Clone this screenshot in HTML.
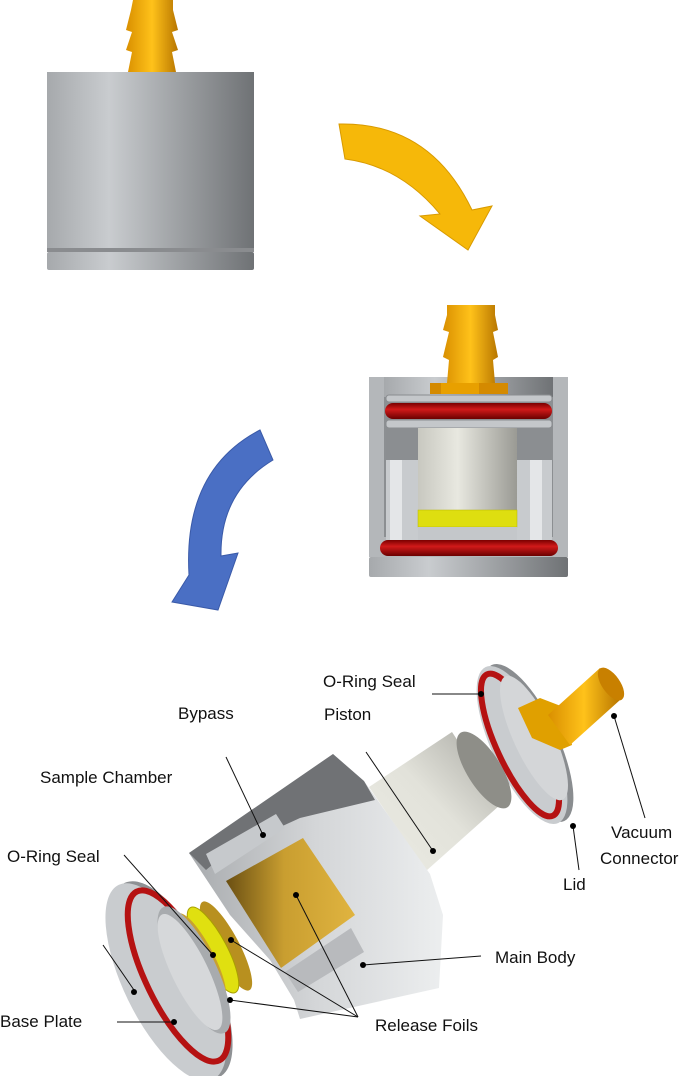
<!DOCTYPE html>
<html><head><meta charset="utf-8"><style>
html,body{margin:0;padding:0;background:#fff}
svg{display:block}
text{font-family:"Liberation Sans",sans-serif;font-size:17px;fill:#111}
</style></head><body>
<svg width="688" height="1076" viewBox="0 0 688 1076" xmlns="http://www.w3.org/2000/svg">
<defs>
<linearGradient id="gc" x1="0" x2="1" y1="0" y2="0">
<stop offset="0" stop-color="#a6a9ac"/><stop offset="0.3" stop-color="#c9cccf"/><stop offset="1" stop-color="#6f7275"/></linearGradient>
<linearGradient id="gold" x1="0" x2="1" y1="0" y2="0">
<stop offset="0" stop-color="#d98f00"/><stop offset="0.5" stop-color="#ffc21a"/><stop offset="1" stop-color="#b87600"/></linearGradient>
<linearGradient id="red" x1="0" x2="0" y1="0" y2="1">
<stop offset="0" stop-color="#7a0000"/><stop offset="0.4" stop-color="#d11a1a"/><stop offset="1" stop-color="#6a0000"/></linearGradient>
<linearGradient id="pist" x1="0" x2="1" y1="0" y2="0">
<stop offset="0" stop-color="#c8c8c0"/><stop offset="0.4" stop-color="#e8e8e0"/><stop offset="1" stop-color="#9a9a94"/></linearGradient>
<linearGradient id="pist2" x1="0" x2="1" y1="1" y2="0">
<stop offset="0" stop-color="#ecece4"/><stop offset="0.5" stop-color="#e2e2da"/><stop offset="1" stop-color="#a8a8a2"/></linearGradient>
<linearGradient id="gch" x1="0" x2="1" y1="0" y2="0">
<stop offset="0" stop-color="#6a4f12"/><stop offset="0.45" stop-color="#c99e30"/><stop offset="1" stop-color="#e0b440"/></linearGradient>
<linearGradient id="body" x1="0" x2="1" y1="0" y2="0">
<stop offset="0" stop-color="#a8abae"/><stop offset="0.5" stop-color="#d4d6d8"/><stop offset="1" stop-color="#eceeef"/></linearGradient>
</defs>

<!-- top cylinder -->
<path d="M133,0 L173,0 L173,10 L178,30 L172,32 L178,50 L172,52 L176,72 L128,72 L132,52 L126,50 L132,32 L126,30 L131,10Z" fill="url(#gold)"/>
<rect x="47" y="72" width="207" height="176" fill="url(#gc)"/>
<rect x="47" y="248" width="207" height="4" fill="#8a8c8f"/>
<rect x="47" y="252" width="207" height="18" rx="2" fill="url(#gc)"/>

<!-- yellow arrow -->
<path d="M339,124 Q430,122 472,210 L492,206 L468,250 L420,216 L440,214 Q400,166 345,159 Z" fill="#f6b809" stroke="#d89a00" stroke-width="1"/>
<!-- blue arrow -->
<path d="M260,430 L273,460 Q220,492 221,556 L238,553 L218,610 L172,602 L189,575 Q183,470 260,430 Z" fill="#4a6fc4" stroke="#3a5aa8" stroke-width="1"/>

<!-- cross-section -->
<rect x="369" y="377" width="199" height="180" fill="#b4b7ba"/>
<rect x="384" y="377" width="169" height="160" fill="#8c8f92"/>
<rect x="384" y="377" width="169" height="20" fill="url(#gc)"/>
<path d="M447,305 L495,305 L495,315 L498,330 L493,332 L498,357 L493,360 L495,383 L447,383 L449,360 L443,357 L449,332 L443,330 L447,315Z" fill="url(#gold)"/>
<rect x="430" y="383" width="78" height="11" fill="#d48a00"/>
<rect x="441" y="383" width="38" height="11" fill="#e8a000"/>
<rect x="386" y="395" width="166" height="7" rx="3" fill="#c4c7ca" stroke="#8a8d90"/>
<rect x="385" y="403" width="167" height="16" rx="8" fill="url(#red)"/>
<rect x="386" y="420" width="166" height="8" rx="3" fill="#c4c7ca" stroke="#8a8d90"/>
<rect x="386" y="428" width="166" height="32" fill="#8b8e91"/>
<rect x="386" y="460" width="32" height="80" fill="#c8cbce"/>
<rect x="390" y="460" width="12" height="80" fill="#e4e6e8"/>
<rect x="517" y="460" width="35" height="80" fill="#c8cbce"/>
<rect x="530" y="460" width="12" height="80" fill="#e4e6e8"/>
<rect x="418" y="428" width="99" height="112" fill="url(#pist)"/>
<rect x="418" y="510" width="99" height="17" fill="#dede10" stroke="#b8b800" stroke-width="0.5"/>
<rect x="418" y="527" width="99" height="13" fill="#c4c7ca"/>
<rect x="380" y="540" width="178" height="16" rx="8" fill="url(#red)"/>
<rect x="369" y="557" width="199" height="20" rx="2" fill="url(#gc)"/>

<!-- exploded: lid -->
<ellipse cx="528" cy="743" rx="30" ry="86" transform="rotate(-25 528 743)" fill="#8a8d90"/>
<ellipse cx="522" cy="745" rx="30" ry="86" transform="rotate(-25 522 745)" fill="#c9cccf"/>
<ellipse cx="520" cy="745" rx="23" ry="78" transform="rotate(-25 520 745)" fill="none" stroke="#b51212" stroke-width="6"/>
<ellipse cx="534" cy="738" rx="20" ry="68" transform="rotate(-25 534 738)" fill="#d4d6d8"/>
<path d="M518,708 L540,698 L566,708 L572,745 L560,750 L532,738Z" fill="#e0a000"/>
<path d="M548,715 L600,668 L620,700 L570,745 Z" fill="url(#gold)"/>
<ellipse cx="611" cy="684" rx="9" ry="19" transform="rotate(-35 611 684)" fill="#c88000"/>

<!-- piston -->
<path d="M369,787 L452,732 L500,805 L426,871 Z" fill="url(#pist2)"/>
<ellipse cx="484" cy="770" rx="17" ry="44" transform="rotate(-32 484 770)" fill="#8e8e88"/>

<!-- main body -->
<path d="M189,853 L333,754 L364,781 L430,874 L443,915 L439,988 L300,1019 L294,1000 L270,960 L230,915 Z" fill="url(#body)"/>
<path d="M189,853 L333,754 L364,781 L375,800 L300,818 L230,850 L206,870 Z" fill="#707275"/>
<path d="M206,854 L276,814 L285,828 L215,874 Z" fill="#c6c9cc"/>
<path d="M226,881 L303,838 L355,915 L281,968 Z" fill="url(#gch)"/>
<path d="M285,972 L351,928 L364,952 L298,992 Z" fill="#b8babd"/>

<!-- foils & base -->
<ellipse cx="226" cy="946" rx="13" ry="50" transform="rotate(-28 226 946)" fill="#b8901f"/>
<ellipse cx="213" cy="950" rx="14" ry="48" transform="rotate(-28 213 950)" fill="#e0e010" stroke="#a8a000"/>
<ellipse cx="201" cy="956" rx="12" ry="48" transform="rotate(-28 201 956)" fill="#c8a030"/>
<ellipse cx="172" cy="980" rx="42" ry="108" transform="rotate(-26 172 980)" fill="#8e9194"/>
<ellipse cx="166" cy="982" rx="42" ry="108" transform="rotate(-26 166 982)" fill="#c9cccf"/>
<ellipse cx="178" cy="976" rx="32" ry="94" transform="rotate(-26 178 976)" fill="none" stroke="#b51212" stroke-width="6"/>
<ellipse cx="194" cy="970" rx="22" ry="70" transform="rotate(-26 194 970)" fill="#a8abae"/>
<ellipse cx="190" cy="972" rx="18" ry="64" transform="rotate(-26 190 972)" fill="#d6d8da"/>

<!-- leader lines -->
<g stroke="#111" stroke-width="1" fill="none">
<line x1="432" y1="694" x2="480" y2="694"/>
<line x1="226" y1="757" x2="263" y2="835"/>
<line x1="366" y1="752" x2="433" y2="851"/>
<line x1="124" y1="855" x2="213" y2="955"/>
<line x1="103" y1="945" x2="134" y2="990"/>
<line x1="645" y1="818" x2="614" y2="716"/>
<line x1="579" y1="870" x2="573" y2="826"/>
<line x1="481" y1="956" x2="363" y2="965"/>
<line x1="117" y1="1022" x2="174" y2="1022"/>
<line x1="358" y1="1017" x2="230" y2="1000"/>
<line x1="358" y1="1017" x2="231" y2="940"/>
<line x1="358" y1="1017" x2="296" y2="895"/>
</g>
<g fill="#000">
<circle cx="481" cy="694" r="3"/><circle cx="263" cy="835" r="3"/><circle cx="433" cy="851" r="3"/>
<circle cx="213" cy="955" r="3"/><circle cx="134" cy="992" r="3"/><circle cx="614" cy="716" r="3"/>
<circle cx="573" cy="826" r="3"/><circle cx="363" cy="965" r="3"/><circle cx="174" cy="1022" r="3"/>
<circle cx="230" cy="1000" r="3"/><circle cx="231" cy="940" r="3"/><circle cx="296" cy="895" r="3"/>
</g>
<text x="323" y="687">O-Ring Seal</text>
<text x="178" y="719">Bypass</text>
<text x="324" y="720">Piston</text>
<text x="40" y="783">Sample Chamber</text>
<text x="7" y="862">O-Ring Seal</text>
<text x="611" y="838">Vacuum</text>
<text x="600" y="864">Connector</text>
<text x="563" y="890">Lid</text>
<text x="495" y="963">Main Body</text>
<text x="0" y="1027">Base Plate</text>
<text x="375" y="1031">Release Foils</text>
</svg>
</body></html>
